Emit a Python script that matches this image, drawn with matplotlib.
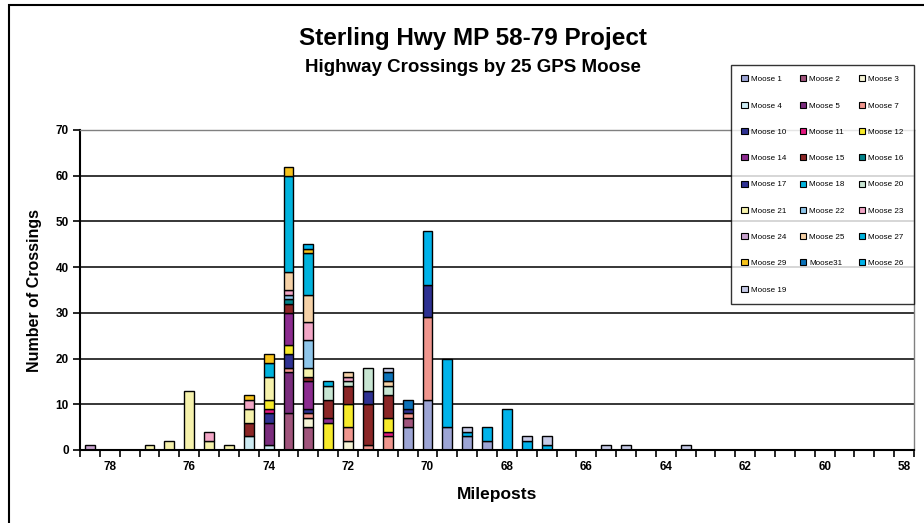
import matplotlib.pyplot as plt
from matplotlib.patches import Patch, Rectangle

plt.rcParams['font.family'] = ['Liberation Sans', 'DejaVu Sans']

# half-mile bins along the highway, west (78.5) to east (58)
mileposts = [78.5, 78.0, 77.5, 77.0, 76.5, 76.0, 75.5, 75.0, 74.5, 74.0, 73.5,
             73.0, 72.5, 72.0, 71.5, 71.0, 70.5, 70.0, 69.5, 69.0, 68.5, 68.0,
             67.5, 67.0, 66.5, 66.0, 65.5, 65.0, 64.5, 64.0, 63.5, 63.0, 62.5,
             62.0, 61.5, 61.0, 60.5, 60.0, 59.5, 59.0, 58.5, 58.0]
tick_values = [78, 76, 74, 72, 70, 68, 66, 64, 62, 60, 58]

# crossings per milepost for each collared moose (stacking order)
moose_1 = {70.5: 5, 70.0: 11, 69.5: 5, 69.0: 3, 68.5: 2}
moose_2 = {73.5: 8, 73.0: 5, 70.5: 2}
moose_3 = {73.0: 2, 72.0: 2}
moose_4 = {74.5: 3, 74.0: 1}
moose_5 = {74.0: 5, 73.5: 9}
moose_7 = {73.5: 1, 73.0: 1, 72.0: 3, 71.5: 1, 71.0: 3, 70.5: 1, 70.0: 18}
moose_10 = {74.0: 2, 73.5: 3, 73.0: 1, 70.5: 1, 70.0: 7}
moose_11 = {74.0: 1, 71.0: 1}
moose_12 = {74.0: 2, 73.5: 2, 72.5: 6, 72.0: 5, 71.0: 3}
moose_14 = {73.5: 7, 73.0: 6, 72.5: 1}
moose_15 = {74.5: 3, 73.5: 2, 73.0: 1, 72.5: 4, 72.0: 4, 71.5: 9, 71.0: 5}
moose_16 = {73.5: 1}
moose_17 = {71.5: 3}
moose_18 = {}
moose_20 = {72.5: 3, 72.0: 1, 71.5: 5, 71.0: 2}
moose_21 = {77.0: 1, 76.5: 2, 76.0: 13, 75.5: 2, 75.0: 1, 74.5: 3, 74.0: 5, 73.0: 2}
moose_22 = {73.5: 1, 73.0: 6}
moose_23 = {75.5: 2, 74.5: 2, 73.5: 1, 73.0: 4, 72.0: 1}
moose_24 = {78.5: 1}
moose_25 = {73.5: 4, 73.0: 6, 72.0: 1, 71.0: 1}
moose_27 = {74.0: 3, 73.5: 21, 73.0: 9, 72.5: 1}
moose_29 = {74.5: 1, 74.0: 2, 73.5: 2, 73.0: 1}
moose_31 = {71.0: 2, 70.5: 2}
moose_26 = {73.0: 1, 70.0: 12, 69.5: 15, 69.0: 1, 68.5: 3, 68.0: 9, 67.5: 2, 67.0: 1}
moose_19 = {71.0: 1, 69.0: 1, 67.5: 1, 67.0: 2, 65.5: 1, 65.0: 1, 63.5: 1}

series = [
    ('Moose 1', moose_1, '#9da5d5'), ('Moose 2', moose_2, '#a0547c'),
    ('Moose 3', moose_3, '#f6f4d6'), ('Moose 4', moose_4, '#cdebf3'),
    ('Moose 5', moose_5, '#7a2c7d'), ('Moose 7', moose_7, '#f0968e'),
    ('Moose 10', moose_10, '#2e3192'), ('Moose 11', moose_11, '#e2187f'),
    ('Moose 12', moose_12, '#f7ea2a'), ('Moose 14', moose_14, '#8c2b8f'),
    ('Moose 15', moose_15, '#8b2626'), ('Moose 16', moose_16, '#00838a'),
    ('Moose 17', moose_17, '#2e3192'), ('Moose 18', moose_18, '#00b3dd'),
    ('Moose 20', moose_20, '#c8e6d3'), ('Moose 21', moose_21, '#f6f2ac'),
    ('Moose 22', moose_22, '#8fc6ea'), ('Moose 23', moose_23, '#f2a6c6'),
    ('Moose 24', moose_24, '#c9a3cf'), ('Moose 25', moose_25, '#f5d1a7'),
    ('Moose 27', moose_27, '#00b3dd'), ('Moose 29', moose_29, '#f7c31b'),
    ('Moose31', moose_31, '#0b72b9'), ('Moose 26', moose_26, '#00b3ea'),
    ('Moose 19', moose_19, '#c6cae6'),
]

fig = plt.figure(figsize=(9.24, 5.23), dpi=100)
ax = fig.add_axes([80 / 924, 73 / 523, 834 / 924, 320 / 523])

# stacked bars, only where a moose actually crossed
bottom = {mp: 0 for mp in mileposts}
handles = []
for name, counts, color in series:
    xs = [mp for mp in mileposts if counts.get(mp, 0) > 0]
    hs = [counts[mp] for mp in xs]
    bs = [bottom[mp] for mp in xs]
    if xs:
        ax.bar(xs, hs, bottom=bs, width=0.25, color=color,
               edgecolor='black', linewidth=1.0, zorder=3)
    for mp, h in zip(xs, hs):
        bottom[mp] += h
    handles.append(Patch(facecolor=color, edgecolor='black', linewidth=0.8, label=name))

ax.set_xlim(78.75, 57.75)
ax.set_ylim(0, 70)
ax.set_yticks(range(0, 71, 10))
ax.set_xticks(tick_values)
ax.set_xticklabels([str(v) for v in tick_values])
ax.set_xticks([78.75 - 0.5 * i for i in range(43)], minor=True)
ax.tick_params(axis='x', which='major', length=0, pad=8, labelsize=8.5)
ax.tick_params(axis='x', which='minor', length=5, width=1.2, direction='out')
ax.tick_params(axis='y', length=5, width=1.2, direction='out', labelsize=8.5, pad=3)
for lbl in ax.get_xticklabels() + ax.get_yticklabels():
    lbl.set_fontweight('bold')

ax.grid(axis='y', color='black', linewidth=1.1, zorder=0)
ax.set_axisbelow(True)
ax.spines['left'].set_linewidth(1.5)
ax.spines['bottom'].set_linewidth(1.5)
ax.spines['bottom'].set_zorder(4)
for side in ('top', 'right'):
    ax.spines[side].set_color('#808080')
    ax.spines[side].set_linewidth(1.0)

ax.set_ylabel('Number of Crossings', fontsize=11.5, fontweight='bold', labelpad=10)
ax.set_xlabel('Mileposts', fontsize=12.5, fontweight='bold', labelpad=10)

fig.text(0.512, 1 - 39 / 523, 'Sterling Hwy MP 58-79 Project',
         ha='center', va='center', fontsize=17.5, fontweight='bold')
fig.text(0.512, 1 - 67 / 523, 'Highway Crossings by 25 GPS Moose',
         ha='center', va='center', fontsize=13.5, fontweight='bold')

# legend is filled row by row, three entries per row
order = [handles[i::3] for i in range(3)]
leg_handles = order[0] + order[1] + order[2]
leg = fig.legend(handles=leg_handles, ncol=3, loc='upper left',
                 bbox_to_anchor=(731 / 924, 1 - 65 / 523), borderaxespad=0,
                 prop={'family': 'Liberation Sans', 'size': 5.8},
                 handlelength=0.75, handleheight=0.75, handletextpad=0.4,
                 columnspacing=1.75, labelspacing=2.3, borderpad=1.3,
                 frameon=True, fancybox=False)
leg.get_frame().set_edgecolor('black')
leg.get_frame().set_linewidth(1.0)

# chart-area border
fig.add_artist(Rectangle((9 / 924, -0.1), 1.2, 1.1 - 5 / 523,
                         transform=fig.transFigure, fill=False,
                         edgecolor='black', linewidth=1.5))

fig.savefig('out.png', dpi=100)
